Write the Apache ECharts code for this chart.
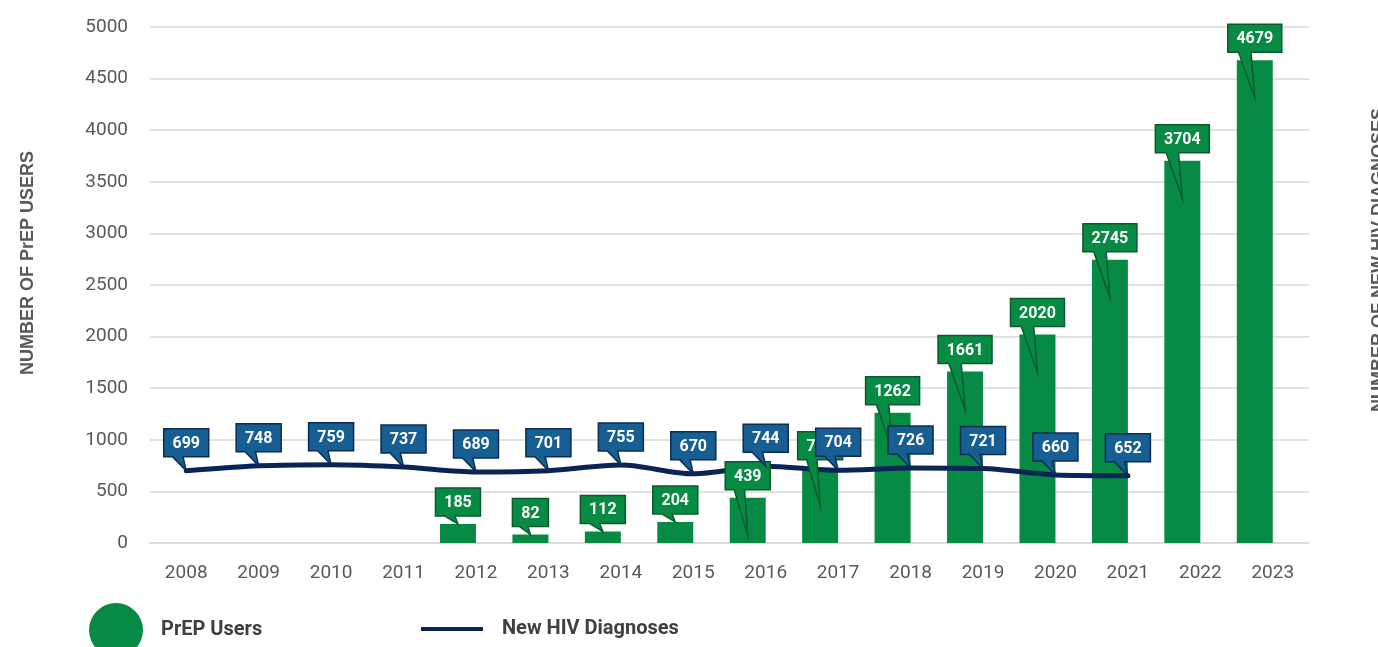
<!DOCTYPE html>
<html>
<head>
<meta charset="utf-8">
<script src="https://cdn.jsdelivr.net/npm/echarts@6/dist/echarts.min.js"></script>
<style>
  html, body { margin: 0; padding: 0; background: #fff; }
  #chart { width: 1378px; height: 647px; }
</style>
</head>
<body>
<div id="chart"></div>
<script>
// --- Data ---
const years = ['2008', '2009', '2010', '2011', '2012', '2013', '2014', '2015',
  '2016', '2017', '2018', '2019', '2020', '2021', '2022', '2023'];
const prepUsers = [null, null, null, null, 185, 82, 112, 204, 439, 730, 1262, 1661, 2020, 2745, 3704, 4679];
const newDiagnoses = [699, 748, 759, 737, 689, 701, 755, 670, 744, 704, 726, 721, 660, 652, null, null];
const yMin = 0, yMax = 5000, yStep = 500;

// --- Styles ---
const BAR_W = 36;
const GREEN = '#078b44', GREEN_EDGE = '#0b5a2d';
const BLUE = '#175e93', BLUE_EDGE = '#0c2b55';
const NAVY = '#0b2457';
const GREY_TXT = '#595959';
// green callouts from 2016 on reach down into the bar
const deepTail = years.map(y => (+y >= 2016 ? 38 : 0));

// speech-bubble box with a tail pointing at (cx, tipY)
function callout(cx, bottom, tipY, text, fill, edge) {
  const w = text.length * 9 + 18, h = 28;
  const l = cx - w / 2, r = cx + w / 2, t = bottom - h;
  return {
    type: 'group',
    children: [
      {
        type: 'polygon',
        shape: {
          points: [[l, t], [r, t], [r, bottom], [cx - w * 0.07, bottom],
            [cx, tipY], [cx - w * 0.3, bottom], [l, bottom]]
        },
        style: { fill: fill, stroke: edge, lineWidth: 1.5 }
      },
      {
        type: 'text',
        style: {
          text: text, x: cx, y: t + h / 2 + 1, align: 'center', verticalAlign: 'middle',
          fill: '#fff', fontSize: 16, fontWeight: 'bold', fontFamily: 'Roboto'
        }
      }
    ]
  };
}

const prepPts = prepUsers.map((v, i) => [i, v]).filter(d => d[1] != null);
const hivPts = newDiagnoses.map((v, i) => [i, v]).filter(d => d[1] != null);

const chart = echarts.init(document.getElementById('chart'));

const titleStyle = {
  align: 'center', verticalAlign: 'middle', fill: GREY_TXT,
  font: 'bold 18px Arial, "Liberation Sans", sans-serif'
};

const option = {
  animation: false,
  grid: { left: 150, right: 69, top: 27, bottom: 104 },
  legend: [
    {
      data: ['PrEP Users'],
      left: 89, top: 603, padding: 0,
      icon: 'circle', itemWidth: 76, itemHeight: 54,
      textStyle: { fontSize: 20, fontWeight: 'bold', color: '#404040', fontFamily: 'Roboto', padding: [0, 0, 0, 2] }
    },
    {
      data: ['New HIV Diagnoses'],
      left: 421, top: 619, padding: 0,
      icon: 'rect', itemWidth: 62, itemHeight: 4,
      textStyle: { fontSize: 20, fontWeight: 'bold', color: '#404040', fontFamily: 'Roboto', padding: [0, 0, 0, 14] }
    }
  ],
  xAxis: {
    type: 'category',
    data: years,
    axisLine: { lineStyle: { color: '#d9d9d9', width: 1.5 } },
    axisTick: { show: false },
    axisLabel: { color: GREY_TXT, fontSize: 19, fontFamily: 'Roboto', margin: 21 }
  },
  yAxis: {
    type: 'value',
    min: yMin, max: yMax, interval: yStep,
    axisLine: { show: false },
    axisTick: { show: false },
    axisLabel: { color: GREY_TXT, fontSize: 19, fontFamily: 'Roboto', margin: 22, formatter: v => String(v) },
    splitLine: { lineStyle: { color: '#d9d9d9', width: 1.5 } }
  },
  graphic: [
    {
      type: 'text', x: 28, y: 263, rotation: Math.PI / 2,
      style: Object.assign({ text: 'NUMBER OF PrEP USERS' }, titleStyle)
    },
    {
      type: 'text', x: 1379, y: 260, rotation: Math.PI / 2,
      style: Object.assign({ text: 'NUMBER OF NEW HIV DIAGNOSES' }, titleStyle)
    }
  ],
  series: [
    {
      name: 'PrEP Users',
      type: 'bar',
      data: prepUsers,
      barWidth: BAR_W,
      barGap: '0%',
      itemStyle: { color: GREEN },
      z: 2
    },
    {
      // empty twin so the green bars sit left of the year tick
      name: 'spacer',
      type: 'bar',
      data: years.map(() => null),
      barWidth: BAR_W,
      barGap: '0%',
      silent: true
    },
    {
      name: 'New HIV Diagnoses',
      type: 'line',
      data: newDiagnoses,
      smooth: 0.3,
      symbol: 'none',
      itemStyle: { color: NAVY },
      lineStyle: { color: NAVY, width: 5, cap: 'round' },
      z: 3
    },
    {
      type: 'custom',
      data: prepPts,
      encode: { x: 0, y: 1 },
      z: 4,
      renderItem: (params, api) => {
        const i = api.value(0), v = api.value(1);
        const p = api.coord([i, v]);
        const cx = p[0] - BAR_W / 2;
        return callout(cx, p[1] - 8, p[1] + deepTail[i], String(v), GREEN, GREEN_EDGE);
      }
    },
    {
      type: 'custom',
      data: hivPts,
      encode: { x: 0, y: 1 },
      z: 5,
      renderItem: (params, api) => {
        const v = api.value(1);
        const p = api.coord([api.value(0), v]);
        return callout(p[0], p[1] - 14, p[1], String(v), BLUE, BLUE_EDGE);
      }
    }
  ]
};

chart.setOption(option);
</script>
</body>
</html>
